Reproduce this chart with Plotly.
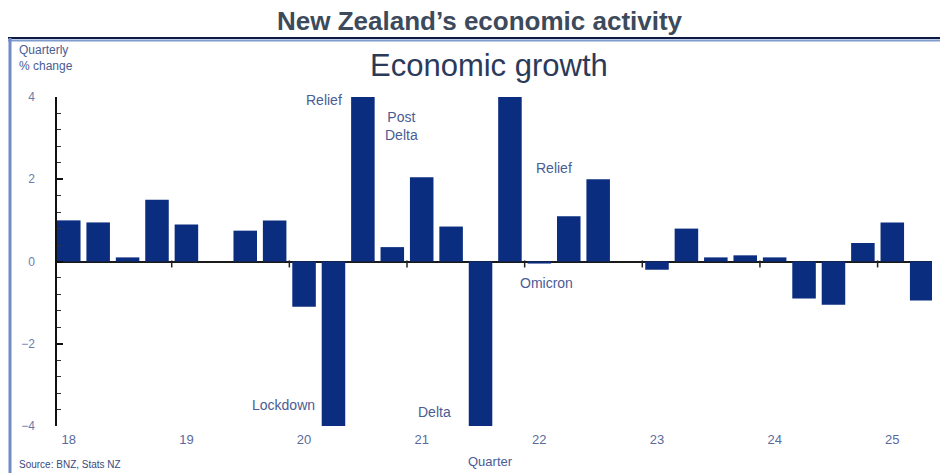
import plotly.graph_objects as go

# ---- data ----
years = [2018, 2019, 2020, 2021, 2022, 2023, 2024, 2025]
quarters = [f"{y}Q{q}" for y in years for q in range(1, 5)][:30]
growth = [1.0, 0.95, 0.1, 1.5, 0.9, 0.0, 0.75, 1.0,
          -1.1, -4.0, 4.0, 0.35, 2.05, 0.85, -4.0, 4.0,
          -0.05, 1.1, 2.0, 0.0, -0.2, 0.8, 0.1, 0.15,
          0.1, -0.9, -1.05, 0.45, 0.95, -0.95]
year_ticks = [f"{y}Q1" for y in years]
year_labels = [str(y)[2:] for y in years]

events = ["Relief", "Post<br>Delta", "Lockdown", "Delta", "Omicron", "Relief"]
event_x = [9.35, 11.3, 8.45, 12.45, 16.25, 16.5]
event_y = [3.93, 3.3, -3.5, -3.65, -0.52, 2.28]
event_anchor = ["right", "center", "right", "center", "center", "center"]

# ---- layout geometry ----
W, H = 940, 473
L, R, T, B = 57, 8, 97, 47
PW, PH = W - L - R, H - T - B


def px_x(p):
    return (p - L) / PW


def px_y(p):
    return (H - B - p) / PH


navy = "#0b2d80"
label_col = "#4a5c94"

boundaries = [i - 0.5 for i, q in enumerate(quarters) if q.endswith("Q1") and i > 0]

fig = go.Figure()
fig.add_trace(go.Bar(x=list(range(len(quarters))), y=growth,
                     marker=dict(color=navy, line=dict(width=0)),
                     width=0.8, hoverinfo="skip"))
fig.add_trace(go.Scatter(x=boundaries, y=[-0.06] * len(boundaries), mode="markers",
                         marker=dict(symbol="line-ns", size=5, color="#222222",
                                     line=dict(color="#222222", width=1.5)),
                         hoverinfo="skip"))

annotations = []
for t, x, y, a in zip(events, event_x, event_y, event_anchor):
    annotations.append(dict(text=t, x=x, y=y, xref="x", yref="y", showarrow=False,
                            xanchor=a, yanchor="middle",
                            font=dict(size=14, color=label_col, family="Liberation Sans, Arial")))

annotations += [
    dict(text="<b>New Zealand’s economic activity</b>", x=px_x(480), y=px_y(21),
         xref="paper", yref="paper", showarrow=False, xanchor="center", yanchor="middle",
         font=dict(size=26, color="#3c4a5c", family="Liberation Sans Narrow, Arial Narrow, Liberation Sans")),
    dict(text="Economic growth", x=px_x(489), y=px_y(65),
         xref="paper", yref="paper", showarrow=False, xanchor="center", yanchor="middle",
         font=dict(size=31, color="#2c3a5a", family="Liberation Sans, Arial")),
    dict(text="Quarterly<br>% change", x=px_x(17), y=px_y(58),
         xref="paper", yref="paper", showarrow=False, xanchor="left", yanchor="middle", align="left",
         font=dict(size=12, color=label_col, family="Liberation Sans, Arial")),
    dict(text="Quarter", x=px_x(490), y=px_y(461),
         xref="paper", yref="paper", showarrow=False, xanchor="center", yanchor="middle",
         font=dict(size=13, color=label_col, family="Liberation Sans, Arial")),
    dict(text="Source: BNZ, Stats NZ", x=px_x(17), y=px_y(464),
         xref="paper", yref="paper", showarrow=False, xanchor="left", yanchor="middle",
         font=dict(size=10, color="#3b4a7a", family="Liberation Sans, Arial")),
]

shapes = [
    dict(type="line", xref="paper", yref="paper", x0=px_x(8), x1=px_x(940),
         y0=px_y(38), y1=px_y(38), line=dict(color="#0d1a45", width=2)),
    dict(type="line", xref="paper", yref="paper", x0=px_x(8), x1=px_x(940),
         y0=px_y(40.5), y1=px_y(40.5), line=dict(color="#7f9ccc", width=2)),
    dict(type="line", xref="paper", yref="paper", x0=px_x(10), x1=px_x(10),
         y0=px_y(38), y1=px_y(473), line=dict(color="#6f8cc4", width=3)),
]

fig.update_layout(
    width=W, height=H, margin=dict(l=L, r=R, t=T, b=B),
    paper_bgcolor="white", plot_bgcolor="white",
    showlegend=False, bargap=0.2,
    annotations=annotations, shapes=shapes,
    font=dict(family="Liberation Sans, Arial", color=label_col),
    xaxis=dict(range=[-0.4, 29.35], tickvals=[quarters.index(q) for q in year_ticks],
               ticktext=year_labels, showgrid=False, showline=False, ticks="",
               zeroline=False, tickfont=dict(size=13, color="#5a6a9c"),
               ticklabelstandoff=4),
    yaxis=dict(range=[-4, 4], tickvals=[-4, -2, 0, 2, 4], showgrid=False,
               showline=True, linecolor="#111111", linewidth=1.5,
               ticks="inside", ticklen=6, tickcolor="#111111", tickwidth=1.5,
               minor=dict(dtick=0.4, ticks="inside", ticklen=4, tickcolor="#333333", tickwidth=1),
               zeroline=True, zerolinecolor="#1a1a1a", zerolinewidth=1.5,
               tickfont=dict(size=12, color="#6b7cab"), ticklabelstandoff=18),
)

fig.write_html("out.html")
